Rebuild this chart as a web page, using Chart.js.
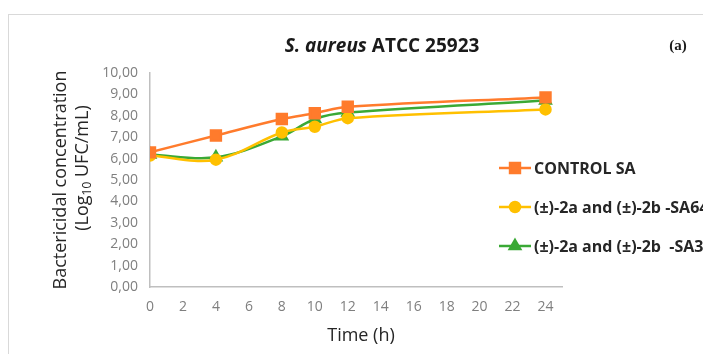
<!DOCTYPE html>
<html>
<head>
<meta charset="utf-8">
<script src="https://cdn.jsdelivr.net/npm/chart.js@4.4.1/dist/chart.umd.min.js"></script>
<style>
  html, body { margin: 0; padding: 0; background: #fff; }
  #wrap { width: 703px; height: 354px; }
</style>
</head>
<body>
<div id="wrap"><canvas id="killCurve" width="703" height="354"></canvas></div>
<script>
// time points (h) and log10 UFC/mL readings
var timeH = [0, 4, 8, 10, 12, 24]
var controlSA = [6.29, 7.08, 7.85, 8.12, 8.42, 8.86]
var sa64 = [6.14, 5.95, 7.22, 7.49, 7.89, 8.30]
var sa32 = [6.19, 6.06, 7.04, 7.85, 8.15, 8.71]
var xTicks = [0, 2, 4, 6, 8, 10, 12, 14, 16, 18, 20, 22, 24]
var seriesNames = ['CONTROL SA', '(±)-2a and (±)-2b -SA64', '(±)-2a and (±)-2b  -SA32']
var seriesColors = ['#ff7b2c', '#ffc000', '#3aa935']
var seriesMarkers = ['rect', 'circle', 'triangle']
var markerSizes = [7, 5, 6]

function pts(vals) {
    return timeH.map(function (t, i) { return { x: t, y: vals[i] } })
}

function fmt(v) { return v.toFixed(2).replace('.', ',') }

var tickFont = { family: 'Open Sans', size: 14 }

var decorations = {
    id: 'decorations',
    beforeDraw: function (chart) {
        var c = chart.ctx
        c.save()
        c.strokeStyle = '#d9d9d9'
        c.lineWidth = 1
        c.strokeRect(8.5, 14.5, 900, 500)
        c.restore()
    },
    afterDraw: function (chart) {
        var c = chart.ctx
        c.save()
        c.fillStyle = '#1a1a1a'
        c.textBaseline = 'middle'

        // title, species in italic
        var f1 = 'italic bold 19px "Open Sans"', f2 = 'bold 19px "Open Sans"'
        var p1 = 'S. aureus ', p2 = 'ATCC 25923'
        c.font = f1; var w1 = c.measureText(p1).width
        c.font = f2; var w2 = c.measureText(p2).width
        var x0 = 382 - (w1 + w2) / 2
        c.textAlign = 'left'
        c.font = f1; c.fillText(p1, x0, 47)
        c.font = f2; c.fillText(p2, x0 + w1, 47)

        c.font = 'bold 15px "Liberation Serif"'
        c.textAlign = 'center'
        c.fillText('(a)', 678, 46)

        // x axis title
        c.font = '18px "Open Sans"'
        c.fillStyle = '#262626'
        c.fillText('Time (h)', 361, 336)

        // y axis title, two rotated lines
        c.save()
        c.translate(61, 180)
        c.rotate(-Math.PI / 2)
        c.fillText('Bactericidal concentration', 0, 0)
        c.restore()

        c.save()
        c.translate(83, 168)
        c.rotate(-Math.PI / 2)
        var a = '(Log', sub = '10', b = ' UFC/mL)'
        c.font = '18px "Open Sans"'; var wa = c.measureText(a).width, wb = c.measureText(b).width
        c.font = '12px "Open Sans"'; var ws = c.measureText(sub).width
        var sx = -(wa + ws + wb) / 2
        c.textAlign = 'left'
        c.font = '18px "Open Sans"'; c.fillText(a, sx, 0)
        c.font = '12px "Open Sans"'; c.fillText(sub, sx + wa, 5)
        c.font = '18px "Open Sans"'; c.fillText(b, sx + wa + ws, 0)
        c.restore()

        // legend
        var rowsY = [168, 207, 246]
        chart.data.datasets.forEach(function (ds, i) {
            var y = rowsY[i]
            c.strokeStyle = ds.borderColor
            c.fillStyle = ds.backgroundColor
            c.lineWidth = 2.5
            c.beginPath(); c.moveTo(499, y); c.lineTo(531, y); c.stroke()
            Chart.helpers.drawPoint(c, {
                pointStyle: ds.pointStyle, radius: ds.pointRadius, rotation: 0, borderWidth: 1
            }, 515, y)
            c.fillStyle = '#262626'
            c.font = 'bold 16px "Open Sans"'
            c.textAlign = 'left'
            c.fillText(ds.label, 534, y + 1)
        })
        c.restore()
    }
}

var datasets = seriesNames.map(function (name, i) {
    var vals = [controlSA, sa64, sa32][i]
    return {
        label: name,
        data: pts(vals),
        borderColor: seriesColors[i],
        backgroundColor: seriesColors[i],
        pointBackgroundColor: seriesColors[i],
        pointBorderColor: seriesColors[i],
        pointStyle: seriesMarkers[i],
        pointRadius: markerSizes[i],
        borderWidth: 2.5,
        tension: 0.35
    }
})

var chart = new Chart(document.getElementById('killCurve').getContext('2d'), {
    type: 'line',
    data: { datasets: datasets },
    options: {
        responsive: false,
        animation: false,
        layout: { padding: { left: 0, top: 73, right: 141, bottom: 0 } },
        plugins: { legend: { display: false }, title: { display: false }, tooltip: { enabled: false } },
        scales: {
            x: {
                type: 'linear', min: 0, max: 25,
                grid: { display: false, drawTicks: false },
                border: { display: true, color: '#bfbfbf', width: 1.5 },
                ticks: { color: '#7f7f7f', font: tickFont, padding: 12, maxRotation: 0 },
                afterBuildTicks: function (s) { s.ticks = xTicks.map(function (v) { return { value: v } }) },
                afterFit: function (s) { s.height = 67 }
            },
            y: {
                min: 0, max: 10,
                grid: { display: false, drawTicks: false },
                border: { display: true, color: '#bfbfbf', width: 1.5 },
                ticks: { stepSize: 1, color: '#7f7f7f', font: tickFont, padding: 12, callback: fmt },
                afterFit: function (s) { s.width = 150 }
            }
        }
    },
    plugins: [decorations]
})
</script>
</body>
</html>
